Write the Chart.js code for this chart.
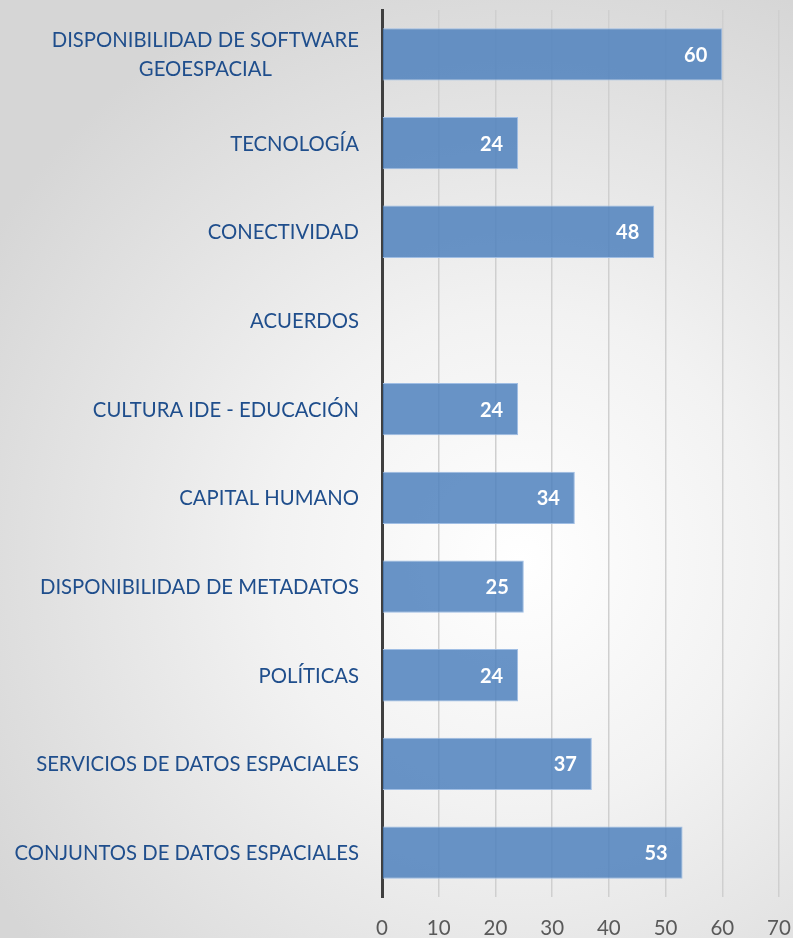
<!DOCTYPE html>
<html>
<head>
<meta charset="utf-8">
<script src="https://cdn.jsdelivr.net/npm/chart.js@4.4.0/dist/chart.umd.min.js"></script>
<style>
  html, body { margin: 0; padding: 0; }
  #wrap {
    width: 793px; height: 938px; position: relative;
    background: radial-gradient(circle at 520px 560px, #ffffff 0px, #f2f2f2 250px, #d6d6d6 620px);
  }
</style>
</head>
<body>
<div id="wrap"><canvas id="barChart" width="793" height="938"></canvas></div>
<script>
const categories = [
  ["DISPONIBILIDAD DE SOFTWARE", "GEOESPACIAL"],
  "TECNOLOGÍA",
  "CONECTIVIDAD",
  "ACUERDOS",
  "CULTURA IDE - EDUCACIÓN",
  "CAPITAL HUMANO",
  "DISPONIBILIDAD DE METADATOS",
  "POLÍTICAS",
  "SERVICIOS DE DATOS ESPACIALES",
  "CONJUNTOS DE DATOS ESPACIALES"
];
const values = [60, 24, 48, null, 24, 34, 25, 24, 37, 53];
const xTicks = [0, 10, 20, 30, 40, 50, 60, 70];

const FONT = "Lato, 'Open Sans', sans-serif";

// category labels: block right aligned, lines centred inside the block
const yLabels = {
  id: "yLabels",
  afterDraw(chart) {
    const ctx = chart.ctx;
    const y = chart.scales.y;
    ctx.save();
    ctx.font = "20.3px " + FONT;
    ctx.fillStyle = "#1f4e8c";
    ctx.textBaseline = "middle";
    ctx.textAlign = "center";
    const right = y.right - 23;
    categories.forEach((lab, i) => {
      const lines = Array.isArray(lab) ? lab : [lab];
      const w = Math.max(...lines.map(l => ctx.measureText(l).width));
      const cy = y.getPixelForTick(i) + 1;
      const lh = 29;
      lines.forEach((l, k) => {
        ctx.fillText(l, right - w / 2, cy + (k - (lines.length - 1) / 2) * lh);
      });
    });
    ctx.restore();
  }
};

// value labels inside the bar end
const valueLabels = {
  id: "valueLabels",
  afterDatasetsDraw(chart) {
    const ctx = chart.ctx;
    const meta = chart.getDatasetMeta(0);
    ctx.save();
    ctx.font = "bold 20px " + FONT;
    ctx.fillStyle = "#ffffff";
    ctx.textAlign = "right";
    ctx.textBaseline = "middle";
    meta.data.forEach((bar, i) => {
      if (values[i] == null) return;
      ctx.fillText(String(values[i]), bar.x - 15, bar.y + 1);
    });
    ctx.restore();
  }
};

new Chart(document.getElementById("barChart"), {
  type: "bar",
  data: {
    labels: categories,
    datasets: [{
      data: values,
      backgroundColor: "rgba(79,129,189,0.85)",
      borderColor: "rgba(160,190,228,1)",
      borderWidth: 1,
      barPercentage: 0.59,
      categoryPercentage: 1
    }]
  },
  options: {
    indexAxis: "y",
    responsive: false,
    animation: false,
    layout: { padding: { top: 10, right: 14, left: 0, bottom: 0 } },
    plugins: { legend: { display: false }, tooltip: { enabled: false } },
    scales: {
      x: {
        min: 0, max: 70,
        afterBuildTicks(scale) { scale.ticks = xTicks.map(v => ({ value: v })); },
        grid: { color: "#cfcfcf", lineWidth: 1.5, drawTicks: false },
        border: { display: false },
        ticks: { color: "#595959", font: { size: 20.5, family: FONT }, padding: 19 },
        afterFit(scale) {
          scale.height = 41;
          scale.paddingLeft = 0;
          scale.paddingRight = 0;
        }
      },
      y: {
        grid: { display: false },
        border: { color: "#3f3f3f", width: 3 },
        ticks: { display: false },
        afterFit(scale) {
          scale.width = 382;
          scale.paddingTop = 0;
          scale.paddingBottom = 0;
        }
      }
    }
  },
  plugins: [yLabels, valueLabels]
});
</script>
</body>
</html>
